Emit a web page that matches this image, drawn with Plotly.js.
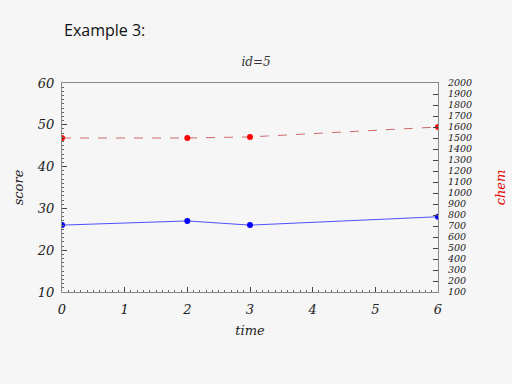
<!DOCTYPE html>
<html><head><meta charset="utf-8">
<script src="https://cdn.plot.ly/plotly-3.0.1.min.js"></script>
<style>html,body{margin:0;padding:0;background:#f6f6f6}#c{width:512px;height:384px}</style>
</head><body><div id="c"></div>
<script>
const time = [0, 2, 3, 6];
const score = [26, 27, 26, 28];
const chem = [1500, 1500, 1510, 1600];
const xTicks = [0, 1, 2, 3, 4, 5, 6];
const yTicks = [10, 20, 30, 40, 50, 60];
const y2Ticks = [100,200,300,400,500,600,700,800,900,1000,1100,1200,1300,1400,1500,1600,1700,1800,1900,2000];
const fam = "DejaVu Serif";
const it = v => "<i>" + v + "</i>";
const tf = {family: fam, size: 13, color: "#222", style: "italic"};
const tf2 = {family: fam, size: 9.5, color: "#222", style: "italic"};
const traces = [
  {x: time, y: score, type: "scatter", mode: "lines+markers", name: "score",
   line: {color: "#5050ff", width: 1}, marker: {color: "#0000ff", size: 6}},
  {x: time, y: chem, type: "scatter", mode: "lines+markers", name: "chem", yaxis: "y2",
   line: {color: "#d06a6a", width: 1, dash: "dash"}, marker: {color: "#ff0000", size: 6}}
];
const layout = {
  width: 512, height: 384, showlegend: false,
  paper_bgcolor: "#f6f6f6", plot_bgcolor: "#f6f6f6",
  margin: {l: 62, r: 74, t: 83, b: 92},
  title: {text: "<i>id=5</i>", font: {family: fam, size: 12, style: "italic", color: "#333"}, x: 0.5, xanchor: "center", y: 0.84, yanchor: "middle"},
  xaxis: {range: [0, 6], tickvals: xTicks, ticktext: xTicks.map(it), tickfont: tf, ticks: "inside", ticklen: 5, tickcolor: "#444",
    ticklabelstandoff: 5,
    showgrid: false, zeroline: false, showline: true, linecolor: "#888", mirror: true,
    minor: {dtick: 0.1, ticks: "inside", ticklen: 2, tickcolor: "#666"},
    title: {text: "<i>time</i>", font: {family: fam, size: 13, style: "italic", color: "#222"}, standoff: 10}},
  yaxis: {range: [10, 60], tickvals: yTicks, ticktext: yTicks.map(it), tickfont: tf, ticks: "inside", ticklen: 5, tickcolor: "#444",
    ticklabelstandoff: 4,
    showgrid: false, zeroline: false, showline: true, linecolor: "#888",
    minor: {dtick: 1, ticks: "inside", ticklen: 2, tickcolor: "#666"},
    title: {text: "<i>score</i>", font: {family: fam, size: 13, style: "italic", color: "#222"}, standoff: 10}},
  yaxis2: {range: [100, 2000], tickvals: y2Ticks, ticktext: y2Ticks.map(it), overlaying: "y", side: "right", tickfont: tf2,
    ticklabelstandoff: 7,
    ticks: "inside", ticklen: 5, tickcolor: "#444", showgrid: false, zeroline: false,
    showline: true, linecolor: "#888",
    title: {text: "<i>chem</i>", font: {family: fam, size: 13, style: "italic", color: "#e00000"}, standoff: 24}},
  annotations: [{text: "Example 3:", xref: "paper", yref: "paper", x: 0.0, y: 1.255, xanchor: "left", yanchor: "middle",
    showarrow: false, font: {family: "Open Sans", size: 16, color: "#111"}}]
};
Plotly.newPlot("c", traces, layout, {displayModeBar: false, staticPlot: true});
</script></body></html>
